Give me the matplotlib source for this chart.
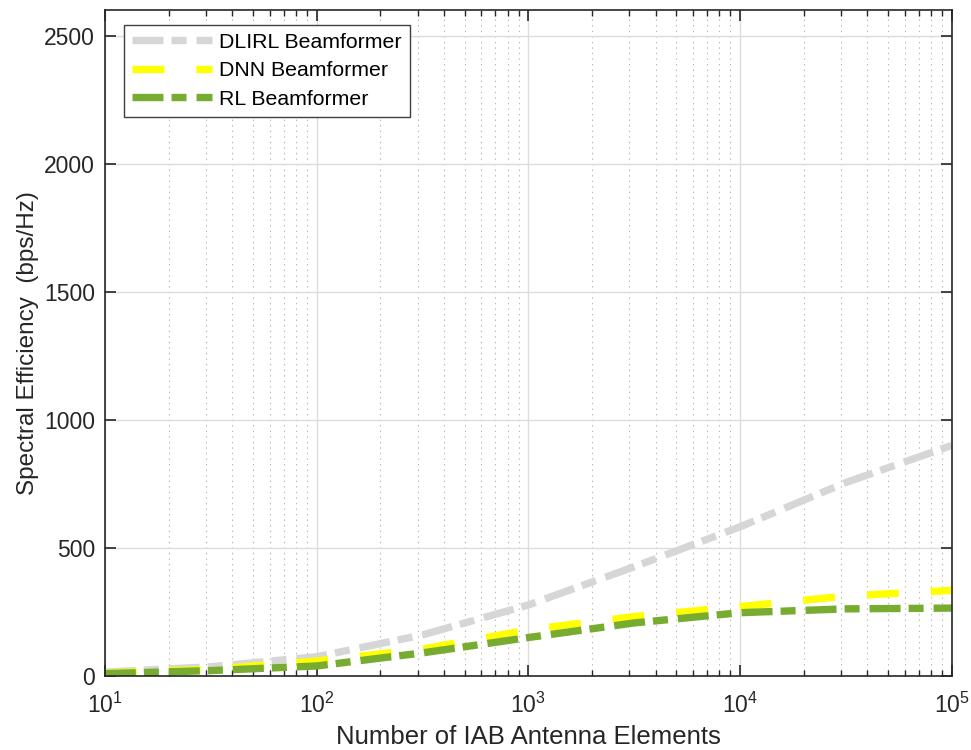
import matplotlib
matplotlib.use("Agg")
import matplotlib.pyplot as plt
from matplotlib.ticker import LogLocator, NullFormatter, MultipleLocator

plt.rcParams['font.family'] = ['Liberation Sans', 'DejaVu Sans']
plt.rcParams['mathtext.fontset'] = 'custom'
plt.rcParams['mathtext.rm'] = 'Liberation Sans'
plt.rcParams['lines.scale_dashes'] = False

# Data
antenna_elements = [10, 31.6, 100, 316, 1000, 3162, 10000, 31623, 100000]
dlirl = [15, 36, 75, 160, 277, 426, 582, 755, 900]
dnn = [11, 26, 58, 105, 180, 232, 271, 312, 334]
rl = [9, 21, 39, 90, 150, 207, 247, 262, 265]
series_labels = ["DLIRL Beamformer", "DNN Beamformer", "RL Beamformer"]

txt = '#262626'
fig = plt.figure(figsize=(9.71, 7.5), dpi=100)
ax = fig.add_axes([0.108, 0.0987, 0.872, 0.888])

lw = 5.3
dd = (22.3, 5.8, 10.8, 7.2)
ax.plot(antenna_elements, dlirl, color='#d6d6d6', lw=lw, dashes=dd,
        dash_capstyle='butt', label=series_labels[0])
ax.plot(antenna_elements, dnn, color='#ffff00', lw=lw, dashes=(23, 23),
        dash_capstyle='butt', label=series_labels[1])
ax.plot(antenna_elements, rl, color='#77ac30', lw=lw, dashes=dd,
        dash_capstyle='butt', label=series_labels[2])

ax.set_xscale('log')
ax.set_xlim(10, 1e5)
ax.set_ylim(0, 2600)
ax.yaxis.set_major_locator(MultipleLocator(500))
ax.xaxis.set_major_locator(LogLocator(base=10, numticks=10))
ax.xaxis.set_minor_locator(LogLocator(base=10, subs=range(2, 10), numticks=50))
ax.xaxis.set_minor_formatter(NullFormatter())

ax.grid(True, which='major', color='#dcdcdc', lw=1.0, ls='-')
ax.grid(True, which='minor', axis='x', color='#b8b8b8', lw=0.8, ls=(0, (1, 3)))
ax.set_axisbelow(True)

ax.tick_params(which='both', direction='in', top=True, right=True, colors=txt,
               labelsize=16.5)
ax.tick_params(which='major', length=8, width=1.2)
ax.tick_params(which='minor', length=4, width=1.0)
ax.tick_params(axis='x', which='major', pad=12)
ax.tick_params(axis='y', which='major', pad=7)
for s in ax.spines.values():
    s.set_color(txt)
    s.set_linewidth(1.2)

ax.set_xlabel('Number of IAB Antenna Elements', fontsize=18.5, color=txt, labelpad=5)
ax.set_ylabel('Spectral Efficiency  (bps/Hz)', fontsize=17.5, color=txt, labelpad=4)

leg = ax.legend(loc='upper left', bbox_to_anchor=(0.023, 0.978), fontsize=15.3,
                frameon=True, fancybox=False, edgecolor='#404040', framealpha=1,
                handlelength=3.76, borderpad=0.38, labelspacing=0.45,
                handletextpad=0.33, borderaxespad=0.0)
leg.get_frame().set_linewidth(1.0)
for t in leg.get_texts():
    t.set_color('black')

fig.savefig('out.png', dpi=100)
